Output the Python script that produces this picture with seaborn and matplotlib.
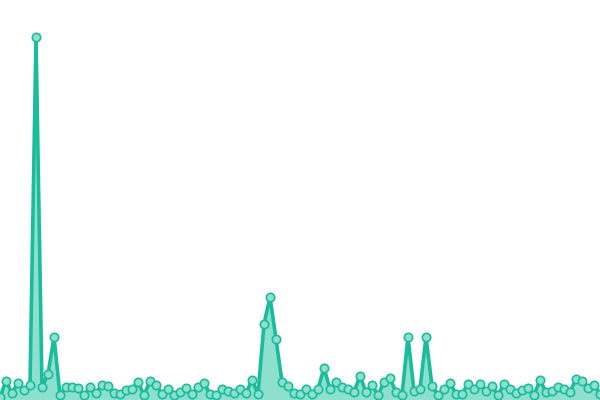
import numpy as np
import pandas as pd
import matplotlib
matplotlib.use("Agg")
import matplotlib.pyplot as plt
import seaborn as sns

# values, one per step
steps = list(range(101))
counts = [
    3, 19, 7, 17, 10, 15, 363, 13, 26, 63,
    5, 13, 13, 12, 5, 13, 7, 15, 14, 7,
    6, 10, 11, 18, 5, 19, 15, 6, 11, 5,
    8, 12, 6, 13, 17, 6, 5, 11, 9, 7,
    11, 7, 20, 6, 76, 103, 61, 18, 14, 7,
    6, 11, 6, 11, 32, 11, 18, 13, 11, 8,
    24, 8, 15, 5, 18, 22, 8, 5, 63, 9,
    11, 63, 14, 5, 11, 17, 6, 6, 16, 11,
    16, 9, 14, 5, 16, 11, 7, 10, 12, 5,
    20, 8, 9, 13, 11, 8, 21, 19, 12, 15,
    6,
]

line_color = "#1abc9c"
fill_color = "#8de0cd"

df = pd.DataFrame({"step": steps, "count": counts})

sns.set_style("white")
fig = plt.figure(figsize=(6, 4), dpi=100)
ax = fig.add_axes([0, 0, 1, 1])

ax.fill_between(df["step"], 0, df["count"], color=fill_color, linewidth=0)
sns.lineplot(data=df, x="step", y="count", ax=ax, color=line_color,
             linewidth=2.6, marker="o", markersize=6,
             markerfacecolor=fill_color, markeredgecolor=line_color,
             markeredgewidth=1.2)

ax.set_xlim(0, 100)
ax.set_ylim(0, 400)
ax.set_axis_off()

fig.savefig("out.png", dpi=100)
